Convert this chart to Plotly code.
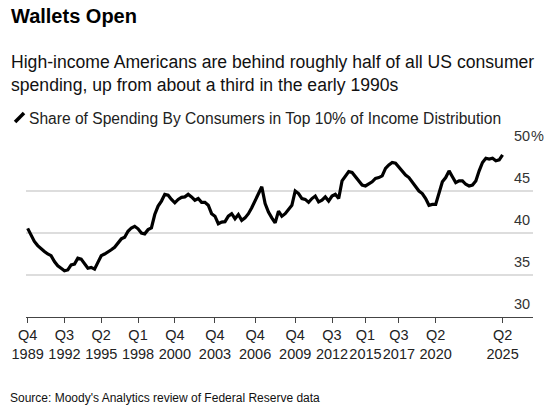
import pandas as pd
import plotly.graph_objects as go

# ---- data ----
start_quarter = "1989Q4"
end_quarter = "2025Q2"
share_top10 = [
    40.55, 39.7, 39.0, 38.5, 38.1, 37.8, 37.5, 37.3, 36.6, 36.1,
    35.8, 35.5, 35.6, 36.2, 36.3, 37.0, 36.9, 36.3, 35.8, 35.9,
    35.7, 36.5, 37.3, 37.5, 37.7, 38.0, 38.3, 38.8, 39.3, 39.5,
    40.2, 40.6, 40.8, 40.5, 40.0, 39.9, 40.4, 40.6, 42.2, 43.2,
    43.8, 44.6, 44.5, 44.0, 43.6, 44.0, 44.25, 44.3, 44.6, 44.3,
    43.9, 44.1, 43.65, 43.65, 43.3, 42.3, 42.0, 41.1, 41.3, 41.35,
    42.0, 42.3, 41.7, 42.2, 41.5, 41.8, 42.3, 43.0, 43.8, 44.7,
    45.5, 43.5, 42.5, 41.8, 41.2, 42.6, 42.0, 42.3, 42.8, 43.3,
    45.0, 44.7, 44.1, 44.0, 43.65, 44.1, 44.4, 43.7, 43.9, 44.3,
    43.8, 44.4, 44.6, 44.1, 46.2, 46.8, 47.3, 47.2, 46.7, 46.1,
    45.7, 45.6, 45.8, 46.1, 46.5, 46.6, 46.8, 47.7, 48.1, 48.4,
    48.3, 47.8, 47.3, 46.9, 46.6, 46.05, 45.6, 45.0, 44.7, 44.1,
    43.3, 43.4, 43.4, 44.7, 46.1, 46.6, 47.4, 46.7, 46.0, 46.2,
    46.2, 45.8, 45.6, 45.7, 46.2, 47.4, 48.4, 48.9, 48.8, 48.9,
    48.6, 48.7, 49.3,
]
tick_quarters = ["1989Q4", "1992Q3", "1995Q2", "1998Q1", "2000Q4", "2003Q4",
                 "2006Q4", "2009Q4", "2012Q3", "2015Q1", "2017Q3", "2020Q2", "2025Q2"]
y_ticks = [30, 35, 40, 45, 50]

quarters = [str(p) for p in pd.period_range(start_quarter, end_quarter, freq="Q")]
tick_text = [f"Q{q[-1]}<br>{q[:4]}" for q in tick_quarters]

# ---- layout geometry (pixels) ----
W, H = 553, 414
L, R, T, B = 23, 19.5, 149.3, 97.3
PW = W - L - R
PH = H - T - B
PLOT_BOTTOM = H - B


def px(x):
    return (x - L) / PW


def py(y):
    return (PLOT_BOTTOM - y) / PH


FONT = "Liberation Sans, Arial, Helvetica, sans-serif"

fig = go.Figure()
fig.add_trace(go.Scatter(
    x=quarters, y=share_top10, mode="lines",
    line=dict(color="#000000", width=3.2), hoverinfo="x+y", showlegend=False,
))

annotations = [
    dict(text="<b>Wallets Open</b>", x=px(6), y=py(17), xanchor="left", yanchor="middle",
         font=dict(size=20, color="#000000")),
    dict(text="High-income Americans are behind roughly half of all US consumer<br>"
              "spending, up from about a third in the early 1990s",
         x=px(5.5), y=py(74), xanchor="left", yanchor="middle", align="left",
         font=dict(size=17.6, color="#111111")),
    dict(text="Share of Spending By Consumers in Top 10% of Income Distribution",
         x=px(24.5), y=py(118.5), xanchor="left", yanchor="middle",
         font=dict(size=15.6, color="#222222")),
    dict(text="Source: Moody's Analytics review of Federal Reserve data",
         x=px(5), y=py(397), xanchor="left", yanchor="middle",
         font=dict(size=12, color="#111111")),
]
for v in y_ticks:
    annotations.append(dict(text=str(v), x=1, xref="paper", y=v, yref="y",
                            xanchor="right", yanchor="bottom", yshift=3, xshift=-1,
                            font=dict(size=14.5, color="#333333")))
annotations.append(dict(text="%", x=1, xref="paper", y=50, yref="y",
                        xanchor="left", yanchor="bottom", yshift=3, xshift=-4,
                        font=dict(size=14.5, color="#333333")))
for a in annotations:
    a.setdefault("xref", "paper")
    a.setdefault("yref", "paper")
    a["showarrow"] = False
    a.setdefault("font", {})
    a["font"].setdefault("family", FONT)

fig.update_layout(
    width=W, height=H,
    margin=dict(l=L, r=R, t=T, b=B, pad=0),
    paper_bgcolor="#ffffff", plot_bgcolor="#ffffff",
    font=dict(family=FONT, color="#222222"),
    annotations=annotations,
    shapes=[dict(type="line", xref="paper", yref="paper",
                 x0=px(12), y0=py(122.5), x1=px(21), y1=py(113.5),
                 line=dict(color="#000000", width=3.5))],
    xaxis=dict(
        type="category", range=[-0.5, 151.1],
        tickmode="array", tickvals=tick_quarters, ticktext=tick_text,
        tickangle=0,
        showgrid=False, showline=True, linecolor="#444444", linewidth=1,
        ticks="outside", ticklen=5, tickcolor="#444444", tickwidth=1,
        tickfont=dict(size=14.5, color="#222222"), zeroline=False,
    ),
    yaxis=dict(
        range=[30, 50], tickmode="array", tickvals=y_ticks, showticklabels=False,
        showgrid=True, gridcolor="#dddddd", gridwidth=1.5, zeroline=False,
        showline=False,
    ),
)

fig.write_html("out.html")
